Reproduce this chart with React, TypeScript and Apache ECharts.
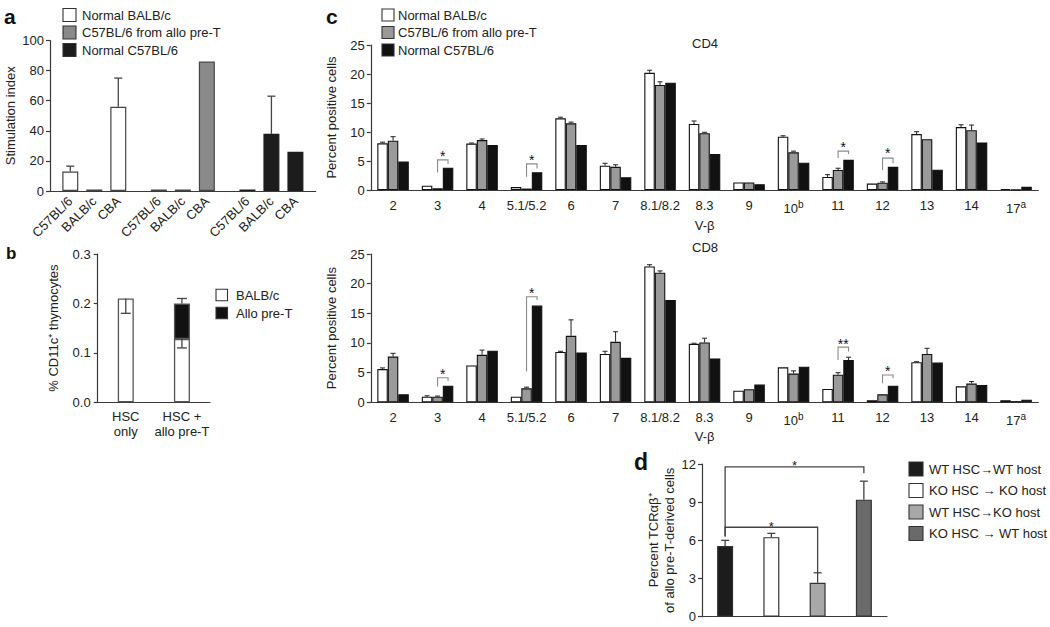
import React, { useEffect, useRef } from "react";
import * as echarts from "echarts";

const FONT = "Liberation Sans, Arial, Helvetica, sans-serif";

// ---------- Panel a ----------
const aResponders = ["Normal BALB/c", "C57BL/6 from allo pre-T", "Normal C57BL/6"];
const aTargets = ["C57BL/6", "BALB/c", "CBA"];
const aNormalBalb = [13, 1, 56];
const aAlloB6 = [1, 1, 86];
const aNormalB6 = [1, 38, 26];
const aErrNormalBalb = [16.5, null, 75];
const aErrAlloB6 = [null, null, null];
const aErrNormalB6 = [null, 63, null];

// ---------- Panel b ----------
const bGroups = ["HSC\nonly", "HSC +\nallo pre-T"];
const bSeriesNames = ["BALB/c", "Allo pre-T"];
const bBalb = [0.21, 0.128];
const bAllo = [0, 0.072];
// [category, from, to]
const bErr = [
  [0, 0.21, 0.18],
  [1, 0.128, 0.11],
  [1, 0.2, 0.21],
];

// ---------- Panel c ----------
const cGroups = ["Normal BALB/c", "C57BL/6 from allo pre-T", "Normal C57BL/6"];
const vbeta = ["2", "3", "4", "5.1/5.2", "6", "7", "8.1/8.2", "8.3", "9", "10", "11", "12", "13", "14", "17"];
const vbetaNote = ["", "", "", "", "", "", "", "", "", "b", "", "", "", "", "a"];

const cd4Balb = [8.05, 0.75, 8.0, 0.5, 12.35, 4.2, 20.2, 11.4, 1.3, 9.2, 2.25, 1.1, 9.65, 10.85, 0.15];
const cd4Allo = [8.5, 0.3, 8.6, 0.25, 11.5, 4.0, 18.1, 9.8, 1.3, 6.5, 3.45, 1.25, 8.75, 10.3, 0.05];
const cd4B6 = [4.9, 3.85, 7.75, 3.05, 7.75, 2.2, 18.5, 6.2, 1.0, 4.7, 5.2, 4.0, 3.5, 8.2, 0.55];
const cd4BalbErr = [8.25, null, 8.1, null, 12.55, 4.6, 20.65, 11.9, null, 9.35, 2.65, null, 10.05, 11.25, null];
const cd4AlloErr = [9.2, null, 8.8, null, 11.7, 4.35, 18.65, 9.95, null, 6.7, 3.75, 1.4, null, 11.2, null];
const cd4B6Err = [null, null, null, null, null, null, null, null, null, null, null, null, null, null, null];

const cd8Balb = [5.6, 0.95, 6.2, 0.95, 8.5, 8.15, 22.9, 9.85, 1.95, 5.9, 2.25, 0.35, 6.75, 2.7, 0.35];
const cd8Allo = [7.7, 0.95, 8.0, 2.35, 11.2, 10.2, 21.85, 10.1, 2.2, 4.85, 4.65, 1.35, 8.15, 3.15, 0.2];
const cd8B6 = [1.35, 2.8, 8.7, 16.3, 8.4, 7.5, 17.25, 7.4, 3.0, 6.0, 7.15, 2.8, 6.7, 2.9, 0.45];
const cd8BalbErr = [5.8, 1.1, null, null, 8.6, 8.6, 23.2, 9.95, null, null, null, null, 6.85, null, null];
const cd8AlloErr = [8.25, 1.05, 8.8, 2.55, 13.9, 11.9, 22.15, 10.8, null, 5.3, 5.0, null, 9.1, 3.5, null];
const cd8B6Err = [null, null, null, null, null, null, null, null, null, null, 7.6, null, null, null, null];

// significance brackets: category index, bracket top, left leg bottom, right leg bottom, star centre
const cd4Sig = [
  { cat: 1, top: 5.2, left: 3.0, right: 4.5, star: 6.3, mark: "*" },
  { cat: 3, top: 4.5, left: 2.3, right: 3.7, star: 5.7, mark: "*" },
  { cat: 10, top: 6.7, left: 5.5, right: 6.2, star: 7.9, mark: "*" },
  { cat: 11, top: 5.5, left: 3.45, right: 4.6, star: 6.9, mark: "*" },
];
const cd8Sig = [
  { cat: 1, top: 4.15, left: 2.65, right: 3.6, star: 5.2, mark: "*" },
  { cat: 3, top: 17.8, left: 5.2, right: 17.25, star: 18.9, mark: "*" },
  { cat: 10, top: 9.3, left: 7.15, right: 8.55, star: 10.4, mark: "**" },
  { cat: 11, top: 4.6, left: 3.2, right: 4.05, star: 5.85, mark: "*" },
];

// ---------- Panel d ----------
const dGroups = ["WT HSC\u2192WT host", "KO HSC \u2192 KO host", "WT HSC\u2192KO host", "KO HSC \u2192 WT host"];
const dValues = [5.55, 6.25, 2.67, 9.2];
const dErr = [6.0, 6.55, 3.45, 10.65];
const dSig = [
  { from: 0, to: 3, top: 11.77, fromLow: 6.3, toLow: 11.27, mark: "*" },
  { from: 0, to: 2, top: 7.03, fromLow: 6.3, toLow: 3.46, mark: "*" },
];

// ---------- styles ----------
const aColors = ["#ffffff", "#8a8a8a", "#1c1c1c"];
const cColors = ["#ffffff", "#9a9a9a", "#111111"];
const dColors = ["#1c1c1c", "#ffffff", "#a8a8a8", "#6a6a6a"];
const AXIS = "#3a3a3a";
const TXT = "#222";

const A_BAR = 16;
const A_GAP = 8;
const C_BAR = 10.5;
// label slots for panel a (each slot a third of bar pitch)
const A_SLOTS_PER_GROUP = 11;
const A_SLOT_FIRST = 2;
const A_SLOT_STEP = 3;

function errRender(spacing: number, cap: number, color: string, lw: number) {
  return (params: any, api: any) => {
    const cat = api.value(0);
    const k = api.value(1);
    const from = api.value(2);
    const to = api.value(3);
    const p1 = api.coord([cat, from]);
    const p2 = api.coord([cat, to]);
    const x = p1[0] + (k - 1) * spacing;
    return {
      type: "group",
      children: [
        { type: "line", shape: { x1: x, y1: p1[1], x2: x, y2: p2[1] }, style: { stroke: color, lineWidth: lw } },
        { type: "line", shape: { x1: x - cap, y1: p2[1], x2: x + cap, y2: p2[1] }, style: { stroke: color, lineWidth: lw } },
      ],
    };
  };
}

function sigRenderC(sigs: any[], spacing: number) {
  return (params: any, api: any) => {
    const s = sigs[params.dataIndex];
    const pTop = api.coord([s.cat, s.top]);
    const xl = pTop[0];
    const xr = pTop[0] + spacing;
    const yl = api.coord([s.cat, s.left])[1];
    const yr = api.coord([s.cat, s.right])[1];
    const ys = api.coord([s.cat, s.star])[1];
    return {
      type: "group",
      children: [
        {
          type: "polyline",
          shape: { points: [[xl, yl], [xl, pTop[1]], [xr, pTop[1]], [xr, yr]] },
          style: { stroke: "#8a8a8a", lineWidth: 1.1, fill: null },
        },
        {
          type: "text",
          x: (xl + xr) / 2,
          y: ys + 3,
          style: { text: s.mark, align: "center", verticalAlign: "middle", fontSize: 14, fontFamily: FONT, fill: "#111" },
        },
      ],
    };
  };
}

function sigRenderD(params: any, api: any) {
  const s = dSig[params.dataIndex];
  const a = api.coord([s.from, s.top]);
  const b = api.coord([s.to, s.top]);
  const yl = api.coord([s.from, s.fromLow])[1];
  const yr = api.coord([s.to, s.toLow])[1];
  return {
    type: "group",
    children: [
      {
        type: "polyline",
        shape: { points: [[a[0], yl], [a[0], a[1]], [b[0], a[1]], [b[0], yr]] },
        style: { stroke: "#444", lineWidth: 1.3, fill: null },
      },
      {
        type: "text",
        x: (a[0] + b[0]) / 2,
        y: a[1] - 1,
        style: { text: s.mark, align: "center", verticalAlign: "middle", fontSize: 13, fontFamily: FONT, fill: "#222" },
      },
    ],
  };
}

function legendBlock(names: string[], colors: string[], x: number, y0: number, dy: number, sq: number, textX: number, fs: number) {
  const els: any[] = [];
  names.forEach((n, i) => {
    const cy = y0 + i * dy;
    els.push({
      type: "rect",
      shape: { x: x, y: cy - sq / 2, width: sq, height: sq },
      style: { fill: colors[i], stroke: "#333", lineWidth: 1.1 },
    });
    els.push({
      type: "text",
      x: textX,
      y: cy,
      style: { text: n, fontSize: fs, fontFamily: FONT, fill: TXT, textAlign: "left", textVerticalAlign: "middle" },
    });
  });
  return els;
}

function panelLetter(t: string, x: number, y: number, fs: number) {
  return {
    type: "text",
    x,
    y,
    style: { text: t, fontSize: fs, fontWeight: "bold", fontFamily: FONT, fill: "#111", textVerticalAlign: "middle" },
  };
}

function plainText(t: string, x: number, y: number, fs: number) {
  return {
    type: "text",
    x,
    y,
    style: { text: t, fontSize: fs, fontFamily: FONT, fill: TXT, textVerticalAlign: "middle" },
  };
}

function buildOption() {
  const aByResp = [aNormalBalb, aAlloB6, aNormalB6];
  const aErrByResp = [aErrNormalBalb, aErrAlloB6, aErrNormalB6];
  const aErrData: number[][] = [];
  aErrByResp.forEach((errs, r) =>
    errs.forEach((e, k) => {
      if (e != null) aErrData.push([r, k, aByResp[r][k], e]);
    })
  );
  const aSlots: string[] = new Array(A_SLOTS_PER_GROUP * aResponders.length).fill("");
  aResponders.forEach((_, r) =>
    aTargets.forEach((t, k) => {
      aSlots[r * A_SLOTS_PER_GROUP + A_SLOT_FIRST + k * A_SLOT_STEP] = t;
    })
  );

  const cErrData = (vals: number[][], errs: (number | null)[][]) => {
    const out: number[][] = [];
    errs.forEach((arr, k) =>
      arr.forEach((e, i) => {
        if (e != null) out.push([i, k, vals[k][i], e]);
      })
    );
    return out;
  };
  const cd4Vals = [cd4Balb, cd4Allo, cd4B6];
  const cd8Vals = [cd8Balb, cd8Allo, cd8B6];

  const yAxisBase = (gi: number, min: number, max: number, interval: number, name: string, nameGap: number, extra: any = {}) => ({
    type: "value",
    gridIndex: gi,
    min,
    max,
    interval,
    name,
    nameLocation: "middle",
    nameGap,
    nameTextStyle: { fontSize: 13, fontFamily: FONT, color: TXT, lineHeight: 16 },
    axisLine: { show: true, lineStyle: { color: AXIS, width: 1.2 } },
    axisTick: { show: true, length: 4, lineStyle: { color: AXIS, width: 1.2 } },
    axisLabel: { fontSize: 13, fontFamily: FONT, color: TXT, margin: 6, ...(extra.axisLabel || {}) },
    splitLine: { show: false },
  });

  const vbetaLabel = {
    fontSize: 13,
    fontFamily: FONT,
    color: TXT,
    margin: 9,
    interval: 0,
    formatter: (v: string, i: number) => (vbetaNote[i] ? `${v}{sup|${vbetaNote[i]}}` : v),
    rich: { sup: { fontSize: 10, fontFamily: FONT, color: TXT, padding: [0, 0, 9, 0] } },
  };

  const series: any[] = [];

  aTargets.forEach((t, k) => {
    series.push({
      type: "bar",
      name: t,
      xAxisIndex: 0,
      yAxisIndex: 0,
      barWidth: A_BAR,
      barGap: "50%",
      data: aByResp.map((vals, r) => ({
        value: vals[k],
        itemStyle: { color: aColors[r], borderColor: r === 2 ? "#1c1c1c" : "#444", borderWidth: 1.2 },
      })),
    });
  });
  series.push({
    type: "custom",
    xAxisIndex: 0,
    yAxisIndex: 0,
    z: 5,
    renderItem: errRender(A_BAR + A_GAP, 4, "#444", 1.3),
    data: aErrData,
  });

  series.push({
    type: "bar",
    name: bSeriesNames[0],
    stack: "b",
    xAxisIndex: 1,
    yAxisIndex: 1,
    barWidth: 16,
    data: bBalb.map((v) => (v ? v : "-")),
    itemStyle: { color: "#ffffff", borderColor: "#555", borderWidth: 1.3 },
  });
  series.push({
    type: "bar",
    name: bSeriesNames[1],
    stack: "b",
    xAxisIndex: 1,
    yAxisIndex: 1,
    barWidth: 16,
    data: bAllo.map((v) => (v ? v : "-")),
    itemStyle: { color: "#111111", borderColor: "#555", borderWidth: 1.3 },
  });
  series.push({
    type: "custom",
    xAxisIndex: 1,
    yAxisIndex: 1,
    z: 5,
    renderItem: errRender(0, 5, "#444", 1.3),
    data: bErr.map((e) => [e[0], 1, e[1], e[2]]),
  });

  [
    { vals: cd4Vals, errs: [cd4BalbErr, cd4AlloErr, cd4B6Err], sig: cd4Sig, gi: 2 },
    { vals: cd8Vals, errs: [cd8BalbErr, cd8AlloErr, cd8B6Err], sig: cd8Sig, gi: 3 },
  ].forEach((p) => {
    cGroups.forEach((g, k) => {
      series.push({
        type: "bar",
        name: g,
        xAxisIndex: p.gi,
        yAxisIndex: p.gi,
        barWidth: C_BAR,
        barGap: "0%",
        data: p.vals[k],
        itemStyle: { color: cColors[k], borderColor: "#111", borderWidth: 1.1 },
      });
    });
    series.push({
      type: "custom",
      xAxisIndex: p.gi,
      yAxisIndex: p.gi,
      z: 5,
      renderItem: errRender(C_BAR, 2.5, "#333", 1.1),
      data: cErrData(p.vals, p.errs),
    });
    series.push({
      type: "custom",
      xAxisIndex: p.gi,
      yAxisIndex: p.gi,
      z: 6,
      renderItem: sigRenderC(p.sig, C_BAR),
      data: p.sig.map((s) => [s.cat, s.top]),
    });
  });

  series.push({
    type: "bar",
    xAxisIndex: 4,
    yAxisIndex: 4,
    barWidth: 16,
    data: dValues.map((v, i) => ({ value: v, itemStyle: { color: dColors[i] } })),
    itemStyle: { borderColor: "#333", borderWidth: 1.2 },
  });
  series.push({
    type: "custom",
    xAxisIndex: 4,
    yAxisIndex: 4,
    z: 5,
    renderItem: errRender(0, 4, "#444", 1.3),
    data: dValues.map((v, i) => [i, 1, v, dErr[i]]),
  });
  series.push({
    type: "custom",
    xAxisIndex: 4,
    yAxisIndex: 4,
    z: 6,
    renderItem: sigRenderD,
    data: dSig.map((s) => [s.from, s.top]),
  });

  const graphic: any[] = [
    panelLetter("a", 4, 16, 21),
    panelLetter("b", 6, 253, 17),
    panelLetter("c", 326, 16, 21),
    panelLetter("d", 634, 462, 23),
    plainText("CD4", 692, 43, 13),
    plainText("CD8", 692, 247.5, 13),
    ...legendBlock(aResponders, aColors, 63, 15, 17.5, 13, 82, 13),
    ...legendBlock(cGroups, cColors, 382, 15, 17.5, 12, 398, 13),
    ...legendBlock(bSeriesNames, ["#ffffff", "#111111"], 216, 295, 18, 11.5, 236, 13),
    ...legendBlock(dGroups, dColors, 909, 469, 21.5, 14, 929, 13),
  ];

  return {
    animation: false,
    backgroundColor: "#ffffff",
    grid: [
      { left: 50, top: 40.5, width: 265.7, height: 150.5 },
      { left: 97.7, top: 254, width: 112.3, height: 148.3 },
      { left: 370.8, top: 45, width: 667.5, height: 145 },
      { left: 370.8, top: 254, width: 667.5, height: 148.3 },
      { left: 702, top: 464, width: 185, height: 152.7 },
    ],
    xAxis: [
      {
        type: "category",
        gridIndex: 0,
        data: aResponders,
        axisLine: { lineStyle: { color: AXIS, width: 1.2 } },
        axisTick: { show: false },
        axisLabel: { show: false },
      },
      {
        type: "category",
        gridIndex: 1,
        data: bGroups,
        axisLine: { lineStyle: { color: AXIS, width: 1.2 } },
        axisTick: { show: false },
        axisLabel: { fontSize: 13, fontFamily: FONT, color: TXT, margin: 7, lineHeight: 15, interval: 0 },
      },
      {
        type: "category",
        gridIndex: 2,
        data: vbeta,
        name: "V-\u03b2",
        nameLocation: "middle",
        nameGap: 29,
        nameTextStyle: { fontSize: 13, fontFamily: FONT, color: TXT },
        axisLine: { lineStyle: { color: AXIS, width: 1.2 } },
        axisTick: { alignWithLabel: true, length: 4, lineStyle: { color: AXIS, width: 1.2 } },
        axisLabel: vbetaLabel,
      },
      {
        type: "category",
        gridIndex: 3,
        data: vbeta,
        name: "V-\u03b2",
        nameLocation: "middle",
        nameGap: 28,
        nameTextStyle: { fontSize: 13, fontFamily: FONT, color: TXT },
        axisLine: { lineStyle: { color: AXIS, width: 1.2 } },
        axisTick: { alignWithLabel: true, length: 4, lineStyle: { color: AXIS, width: 1.2 } },
        axisLabel: vbetaLabel,
      },
      {
        type: "category",
        gridIndex: 4,
        data: dGroups,
        axisLine: { lineStyle: { color: AXIS, width: 1.2 } },
        axisTick: { show: false },
        axisLabel: { show: false },
      },
      {
        type: "category",
        gridIndex: 0,
        position: "bottom",
        data: aSlots,
        axisLine: { show: false },
        axisTick: { show: false },
        axisLabel: { interval: 0, rotate: 45, fontSize: 13, color: TXT },
      },
    ],
    yAxis: [
      yAxisBase(0, 0, 100, 20, "Stimulation index", 30),
      yAxisBase(1, 0, 0.3, 0.1, "% CD11c\u207a thymocytes", 36, {
        axisLabel: { formatter: (v: number) => v.toFixed(1), margin: 7 },
      }),
      yAxisBase(2, 0, 25, 5, "Percent positive cells", 26),
      yAxisBase(3, 0, 25, 5, "Percent positive cells", 26),
      yAxisBase(4, 0, 12, 3, "Percent TCR\u03b1\u03b2\u207a\nof allo pre-T-derived cells", 22),
    ],
    series,
    graphic,
  };
}

export default function App() {
  const ref = useRef<HTMLDivElement>(null);
  useEffect(() => {
    if (!ref.current) return;
    const chart = echarts.init(ref.current, null, { renderer: "svg" });
    chart.setOption(buildOption() as any);
    return () => chart.dispose();
  }, []);
  return (
    <div
      ref={ref}
      style={{ position: "absolute", left: 0, top: 0, width: 1050, height: 627, background: "#fff" }}
    />
  );
}
